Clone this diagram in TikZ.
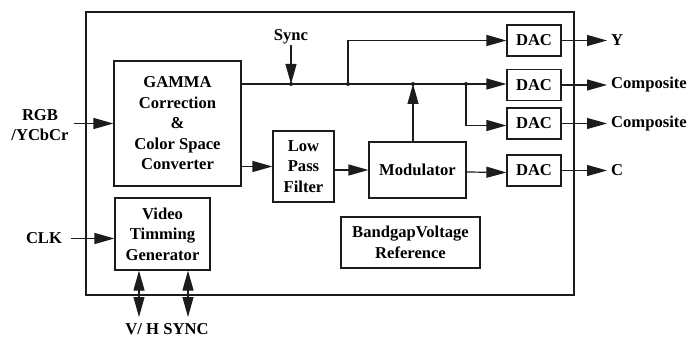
\documentclass[tikz,border=0pt]{standalone}
\usepackage{fontspec}
\setmainfont{Liberation Serif}
\usetikzlibrary{arrows.meta}

\begin{document}
\begin{tikzpicture}[
    x=1pt,
    y=-1pt,
    line cap=butt,
    line join=miter,
    every node/.style={font=\fontsize{16.6}{20.5}\selectfont\bfseries},
]
\definecolor{encLine}{HTML}{1C1C1C}
\definecolor{encText}{HTML}{000000}

\tikzset{
    block/.style={draw=encLine,line width=1.2pt,align=center,inner sep=2pt,text=encText},
    dacbox/.style={block,minimum width=54pt,minimum height=31pt},
    wire/.style={draw=encLine,line width=1.2pt},
    sig/.style={wire,-{Triangle[length=20pt,width=11pt]}},
    dsig/.style={wire,{Triangle[length=20pt,width=11pt]}-{Triangle[length=20pt,width=11pt]}},
    frame/.style={draw=encLine,line width=1.4pt},
    lbl/.style={text=encText,align=center,inner sep=1pt},
}

\useasboundingbox (0,0) rectangle (688,339);

\draw[frame] (86,12) rectangle (574,295);

\node[block,minimum width=127pt,minimum height=125pt] (gamma) at (177.5,123.5)
    {GAMMA\\Correction\\\&\\Color Space\\Converter};
\node[block,minimum width=61pt,minimum height=71pt] (lpf) at (303.5,166.5) {Low\\Pass\\Filter};
\node[block,minimum width=97pt,minimum height=56pt] (mod) at (417.5,170) {Modulator};
\node[block,minimum width=95pt,minimum height=72pt] (vtg) at (162.5,234) {Video\\Timming\\Generator};
\node[block,minimum width=139pt,minimum height=51pt] (bgr) at (410.5,242.5) {BandgapVoltage\\Reference};

\node[dacbox] (dac1) at (534,40.5) {DAC};
\node[dacbox] (dac2) at (534,85) {DAC};
\node[dacbox] (dac3) at (534,123.5) {DAC};
\node[dacbox] (dac4) at (534,170.5) {DAC};

\node[lbl] (rgb) at (40,125) {RGB\\/YCbCr};
\node[lbl] (clk) at (44,238.5) {CLK};
\node[lbl] (sync) at (291,37) {Sync};
\node[lbl] (vh) at (167,329) {V/ H SYNC};

\node[lbl,anchor=west] (outY) at (610,40.5) {Y};
\node[lbl,anchor=west] (outCa) at (610,85) {Composite};
\node[lbl,anchor=west] (outCb) at (610,123.5) {Composite};
\node[lbl,anchor=west] (outC) at (610,170.5) {C};

\coordinate (j1) at (291,84);
\coordinate (j2) at (348,84);
\coordinate (j3) at (413,84);
\coordinate (j4) at (466,84);
\coordinate (vs1) at (139,317);
\coordinate (vs2) at (188,317);

\draw[sig] ([xshift=4pt]rgb.east |- gamma.west) -- (gamma.west);
\draw[sig] ([xshift=8pt]clk.east) -- (vtg.west |- clk);
\draw[sig] (sync.south) -- (j1);

\draw[sig] (gamma.east |- j1) -- (dac2.west |- j1);
\draw[sig] (j2) |- (dac1.west);
\draw[sig] (j4) |- ([yshift=-2pt]dac3.west);
\draw[sig] (mod.north -| j3) -- (j3);

\draw[sig] (gamma.east |- lpf.west) -- (lpf.west);
\draw[sig] (lpf.east |- mod.west) -- (mod.west);
\draw[sig] ([yshift=-2pt]mod.east) -- ([yshift=-2pt]dac4.west);

\foreach \d/\o in {dac1/outY,dac2/outCa,dac3/outCb,dac4/outC} {
    \draw[sig] (\d.east) -- ([xshift=-3pt]\d.east -| \o.west);
}

\draw[dsig] (vs1 |- vtg.south) -- (vs1);
\draw[dsig] (vs2 |- vtg.south) -- (vs2);

\foreach \j in {j1,j2,j3,j4} {
    \fill[encLine] (\j) circle (2pt);
}
\end{tikzpicture}
\end{document}
